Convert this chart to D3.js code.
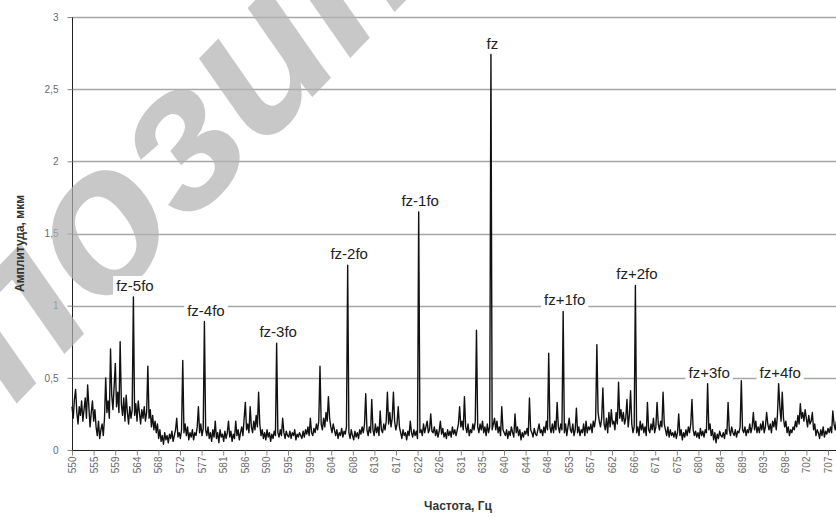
<!DOCTYPE html>
<html><head><meta charset="utf-8">
<script src="https://cdn.jsdelivr.net/npm/d3@7"></script>
<style>body{margin:0;background:#fff;}svg{display:block;}</style>
</head><body>
<svg id="chart" width="836" height="517"></svg>
<script>
// ---- data ----
const freqStart = 550;      // Hz, first sample
const freqStep = 0.25;      // Hz between samples
const amplitudes = [
0.30,0.22,0.35,0.42,0.26,0.18,0.30,0.24,0.34,0.20,
0.28,0.36,0.22,0.45,0.30,0.16,0.26,0.34,0.20,0.28,
0.16,0.10,0.20,0.08,0.14,0.18,0.10,0.22,0.50,0.26,
0.34,0.22,0.70,0.38,0.28,0.44,0.60,0.30,0.40,0.26,
0.75,0.32,0.24,0.36,0.20,0.38,0.26,0.18,0.30,0.22,
0.28,1.06,0.24,0.32,0.20,0.34,0.26,0.18,0.28,0.22,
0.30,0.20,0.26,0.58,0.22,0.28,0.16,0.24,0.14,0.20,
0.12,0.18,0.08,0.14,0.06,0.10,0.04,0.12,0.07,0.10,
0.05,0.11,0.08,0.13,0.06,0.10,0.14,0.22,0.09,0.12,
0.08,0.14,0.62,0.12,0.18,0.10,0.16,0.07,0.12,0.09,
0.14,0.07,0.12,0.10,0.16,0.30,0.12,0.18,0.10,0.15,
0.89,0.14,0.10,0.16,0.08,0.12,0.06,0.14,0.09,0.20,
0.08,0.12,0.05,0.14,0.09,0.11,0.06,0.13,0.08,0.12,
0.20,0.09,0.13,0.06,0.11,0.08,0.20,0.10,0.14,0.07,
0.12,0.16,0.10,0.22,0.33,0.14,0.18,0.12,0.30,0.16,
0.12,0.20,0.14,0.24,0.16,0.40,0.18,0.10,0.14,0.08,
0.12,0.07,0.14,0.09,0.12,0.06,0.11,0.08,0.13,0.10,
0.74,0.12,0.09,0.14,0.10,0.22,0.12,0.08,0.13,0.10,
0.09,0.13,0.08,0.12,0.10,0.14,0.07,0.11,0.09,0.12,
0.10,0.08,0.13,0.09,0.14,0.11,0.16,0.10,0.22,0.12,
0.10,0.15,0.12,0.18,0.14,0.20,0.58,0.18,0.14,0.22,
0.16,0.26,0.20,0.37,0.22,0.16,0.12,0.18,0.14,0.10,
0.14,0.08,0.12,0.10,0.15,0.09,0.13,0.11,0.16,1.28,
0.12,0.08,0.14,0.10,0.07,0.13,0.09,0.12,0.08,0.14,
0.11,0.16,0.12,0.18,0.39,0.14,0.10,0.16,0.12,0.35,
0.14,0.10,0.18,0.12,0.16,0.10,0.27,0.14,0.12,0.18,
0.14,0.20,0.40,0.18,0.26,0.16,0.22,0.40,0.20,0.14,
0.18,0.30,0.16,0.12,0.08,0.14,0.10,0.12,0.07,0.13,
0.10,0.20,0.12,0.09,0.14,0.10,0.13,0.08,1.65,0.12,
0.14,0.10,0.18,0.12,0.16,0.20,0.12,0.14,0.25,0.13,
0.12,0.16,0.10,0.14,0.09,0.13,0.20,0.11,0.15,0.09,
0.12,0.08,0.14,0.10,0.13,0.09,0.16,0.11,0.14,0.10,
0.14,0.18,0.30,0.16,0.20,0.14,0.37,0.16,0.12,0.18,
0.10,0.14,0.12,0.18,0.14,0.20,0.83,0.16,0.12,0.18,
0.14,0.20,0.12,0.16,0.10,0.18,0.12,0.16,2.74,0.14,
0.18,0.22,0.14,0.20,0.12,0.16,0.10,0.30,0.14,0.12,
0.10,0.14,0.08,0.13,0.10,0.16,0.12,0.09,0.25,0.12,
0.16,0.10,0.14,0.07,0.12,0.09,0.13,0.11,0.15,0.10,
0.36,0.14,0.12,0.09,0.15,0.11,0.10,0.14,0.18,0.12,
0.14,0.10,0.16,0.12,0.20,0.14,0.67,0.16,0.12,0.18,
0.12,0.20,0.14,0.33,0.16,0.12,0.18,0.14,0.96,0.12,
0.18,0.10,0.16,0.22,0.14,0.12,0.18,0.10,0.14,0.29,
0.12,0.16,0.10,0.14,0.12,0.18,0.10,0.20,0.12,0.16,
0.14,0.18,0.12,0.20,0.16,0.22,0.73,0.26,0.20,0.16,
0.22,0.43,0.18,0.14,0.22,0.12,0.26,0.16,0.28,0.18,
0.20,0.14,0.26,0.18,0.47,0.22,0.28,0.20,0.26,0.18,
0.22,0.35,0.16,0.24,0.41,0.18,0.12,0.16,1.14,0.12,
0.16,0.10,0.20,0.14,0.18,0.12,0.16,0.10,0.33,0.14,
0.12,0.18,0.14,0.22,0.12,0.16,0.33,0.18,0.14,0.20,
0.16,0.40,0.18,0.14,0.10,0.16,0.09,0.14,0.10,0.12,
0.09,0.13,0.08,0.12,0.25,0.10,0.14,0.07,0.12,0.09,
0.14,0.10,0.16,0.12,0.18,0.35,0.14,0.10,0.13,0.09,
0.12,0.08,0.15,0.10,0.13,0.09,0.14,0.12,0.46,0.14,
0.18,0.10,0.14,0.07,0.12,0.05,0.11,0.08,0.13,0.10,
0.09,0.12,0.08,0.14,0.11,0.33,0.14,0.10,0.16,0.12,
0.10,0.14,0.09,0.13,0.12,0.16,0.48,0.14,0.12,0.16,
0.10,0.14,0.12,0.18,0.12,0.16,0.26,0.14,0.20,0.12,
0.16,0.12,0.18,0.14,0.20,0.12,0.16,0.26,0.18,0.14,
0.18,0.12,0.20,0.16,0.22,0.14,0.24,0.46,0.30,0.20,
0.40,0.22,0.16,0.20,0.12,0.16,0.10,0.14,0.12,0.16,
0.14,0.20,0.16,0.24,0.18,0.32,0.22,0.26,0.20,0.28,
0.22,0.16,0.24,0.18,0.20,0.26,0.14,0.18,0.10,0.14,
0.12,0.08,0.14,0.10,0.16,0.09,0.13,0.11,0.15,0.12,
0.16,0.12,0.27,0.18,0.14,0.20
];
const xTickLabels = ["550","555","559","564","568","572","577","581","586","590","595","599",
  "604","608","613","617","622","626","631","635","640","644","648","653","657","662","666",
  "671","675","680","684","689","693","698","702","707"];
const yTickValues = [0, 0.5, 1, 1.5, 2, 2.5, 3];
const yTickLabels = ["0","0,5","1","1,5","2","2,5","3"];
const peakLabels = ["fz-5fo","fz-4fo","fz-3fo","fz-2fo","fz-1fo","fz","fz+1fo","fz+2fo","fz+3fo","fz+4fo"];
const peakFreqs  = [562.75, 577.5, 592.5, 607.25, 622, 637, 652, 667, 682, 696.75];
const yTitle = "Амплитуда, мкм";
const xTitle = "Частота, Гц";
const watermark = "репозиторий";

// ---- layout ----
const W = 836, H = 517;
const mLeft = 72, mTop = 17, mBottom = 450, xLabelEnd = 828;
const svg = d3.select("#chart");

const series = amplitudes.map((v, i) => ({f: freqStart + i * freqStep, v}));
const x = d3.scaleLinear().domain([550, 707]).range([mLeft, xLabelEnd]);
const y = d3.scaleLinear().domain([0, 3]).range([mBottom, mTop]);

// gridlines
svg.append("g").selectAll("line").data(yTickValues.slice(1)).join("line")
  .attr("x1", mLeft).attr("x2", W)
  .attr("y1", d => Math.round(y(d)) + 0.5).attr("y2", d => Math.round(y(d)) + 0.5)
  .attr("stroke", "#a6a6a6").attr("stroke-width", 1.3);

// y axis
const yAxis = d3.axisLeft(y).tickValues(yTickValues)
  .tickFormat((d, i) => yTickLabels[i]).tickSize(5).tickPadding(9);
const gy = svg.append("g").attr("transform", `translate(${mLeft + 0.5},0)`).call(yAxis);
gy.select(".domain").attr("stroke", "#222").attr("d", `M0,${mTop}V${mBottom}`);
gy.selectAll(".tick line").attr("stroke", "#888");
gy.selectAll(".tick text").attr("fill", "#6a6a6a").attr("font-size", 10)
  .attr("font-family", "Liberation Sans, Arial, sans-serif");

// data line
const line = d3.line().x(d => x(d.f)).y(d => y(d.v));
svg.append("path").datum(series).attr("d", line)
  .attr("fill", "none").attr("stroke", "#111").attr("stroke-width", 1.4)
  .attr("stroke-linejoin", "round");

// x axis
const stepHz = (707 - 550) / (xTickLabels.length - 1);
const xTickVals = xTickLabels.map((_, i) => 550 + i * stepHz);
const xAxis = d3.axisBottom(x).tickValues(xTickVals)
  .tickFormat((d, i) => xTickLabels[i]).tickSize(5).tickPadding(4);
const gx = svg.append("g").attr("transform", `translate(0,${mBottom + 0.5})`).call(xAxis);
gx.select(".domain").attr("stroke", "#222").attr("d", `M${mLeft},0H${W}`);
gx.selectAll(".tick line").attr("stroke", "#888");
gx.selectAll(".tick text").attr("fill", "#6a6a6a").attr("font-size", 10)
  .attr("font-family", "Liberation Sans, Arial, sans-serif")
  .attr("transform", "rotate(-90)").attr("text-anchor", "end")
  .attr("dy", "0.35em").attr("x", -6).attr("y", 0);

// watermark (behind the peak labels)
svg.append("text").attr("transform", "translate(-152,578) rotate(-46)")
  .attr("font-size", 205).attr("font-style", "italic").attr("font-weight", "bold")
  .attr("font-family", "Liberation Sans, Arial, sans-serif")
  .attr("fill", "#b0b0b0").attr("fill-opacity", 0.7).text(watermark);

// peak labels
const pk = svg.append("g");
peakLabels.forEach((lab, i) => {
  const f = peakFreqs[i];
  const pt = series.reduce((a, b) => Math.abs(b.f - f) < Math.abs(a.f - f) ? b : a);
  const g = pk.append("g");
  const t = g.append("text").attr("x", x(pt.f) + 1.5).attr("y", y(pt.v) - 6)
    .attr("text-anchor", "middle").attr("font-size", 15)
    .attr("font-family", "Liberation Sans, Arial, sans-serif").attr("fill", "#222").text(lab);
  const bb = t.node().getBBox();
  g.insert("rect", "text").attr("x", bb.x - 3).attr("y", bb.y - 1)
    .attr("width", bb.width + 6).attr("height", bb.height + 2).attr("fill", "#fff");
});

// axis titles
svg.append("text").attr("transform", `translate(24,${(mTop + mBottom) / 2 + 10}) rotate(-90)`)
  .attr("text-anchor", "middle").attr("font-size", 12).attr("font-weight", "bold")
  .attr("font-family", "Liberation Sans, Arial, sans-serif").attr("fill", "#333").text(yTitle);
svg.append("text").attr("x", 458).attr("y", 510)
  .attr("text-anchor", "middle").attr("font-size", 12).attr("font-weight", "bold")
  .attr("font-family", "Liberation Sans, Arial, sans-serif").attr("fill", "#333").text(xTitle);
</script>
</body></html>
